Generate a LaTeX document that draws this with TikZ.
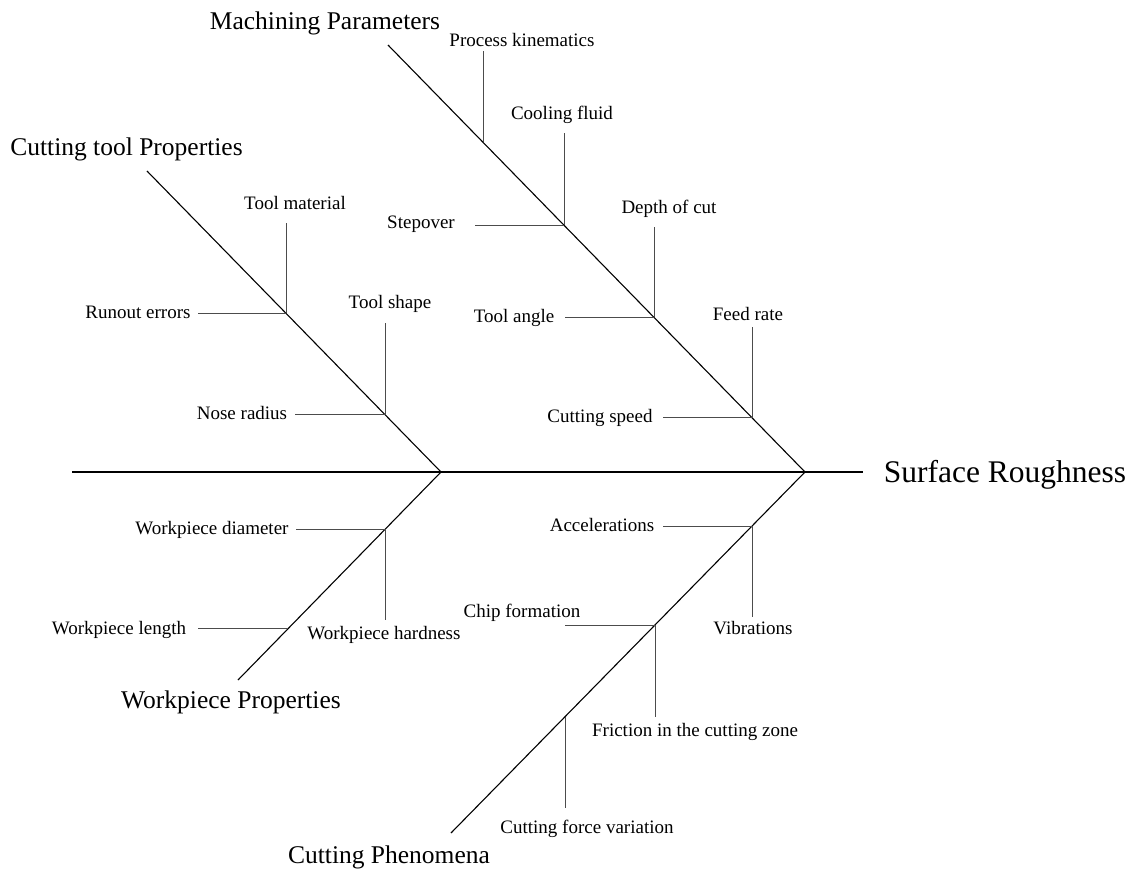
\documentclass[tikz,border=0pt]{standalone}
\usepackage{fontspec}
\setmainfont{Liberation Serif}

\begin{document}
\begin{tikzpicture}[x=1pt,y=-1pt,
  bone/.style={line width=1.1pt},
  twig/.style={line width=0.9pt,black!70},
  lbl/.style={anchor=base,inner sep=0pt,font=\fontsize{19}{22}\selectfont},
  cat/.style={anchor=base,inner sep=0pt,font=\fontsize{25.5}{30}\selectfont},
  head/.style={anchor=base,inner sep=0pt,font=\fontsize{31.5}{36}\selectfont}]
\useasboundingbox (0,0) rectangle (1136,869);
\coordinate (s0) at (72,472);
\coordinate (j1) at (441,472);
\coordinate (j2) at (805,472);
\coordinate (s1) at (863,472);
\coordinate (mp0) at (388,45);
\coordinate (ct0) at (147,171);
\coordinate (wp0) at (238,680);
\coordinate (cp0) at (451,833);
\coordinate (pk) at (483,142);  \coordinate (pk1) at (483,51);
\coordinate (cl) at (564,225);  \coordinate (cl1) at (564,133); \coordinate (so1) at (475,225);
\coordinate (dc) at (654,317);  \coordinate (dc1) at (654,227); \coordinate (ta1) at (565,317);
\coordinate (fr) at (752,417);  \coordinate (fr1) at (752,327); \coordinate (cs1) at (663,417);
\coordinate (tm) at (286,313);  \coordinate (tm1) at (286,223); \coordinate (ro1) at (198,313);
\coordinate (ts) at (385,414);  \coordinate (ts1) at (385,323); \coordinate (nr1) at (295,414);
\coordinate (wd) at (385,529);  \coordinate (wd1) at (296,529); \coordinate (wh1) at (385,620);
\coordinate (wl) at (288,628);  \coordinate (wl1) at (198,628);
\coordinate (ac) at (752,526);  \coordinate (ac1) at (663,526); \coordinate (vb1) at (752,617);
\coordinate (ch) at (655,625);  \coordinate (ch1) at (565,625); \coordinate (fz1) at (655,717);
\coordinate (cv) at (565,717);  \coordinate (cv1) at (565,808);

\node[head] (sr) at (1005,482) {Surface Roughness};
\node[cat] (mpl) at (325,29.5) {Machining Parameters};
\node[cat] (ctl) at (126.5,156) {Cutting tool Properties};
\node[cat] (wpl) at (231,708) {Workpiece Properties};
\node[cat] (cpl) at (389,863) {Cutting Phenomena};
\node[lbl] (pkl) at (522,46.5) {Process kinematics};
\node[lbl] (cll) at (562,119.5) {Cooling fluid};
\node[lbl] (sol) at (421,228.5) {Stepover};
\node[lbl] (dcl) at (669,213.5) {Depth of cut};
\node[lbl] (tal) at (514,322.5) {Tool angle};
\node[lbl] (frl) at (748,320.5) {Feed rate};
\node[lbl] (csl) at (600,422.5) {Cutting speed};
\node[lbl] (tml) at (295,209.5) {Tool material};
\node[lbl] (rol) at (138,318.5) {Runout errors};
\node[lbl] (tsl) at (390,308.5) {Tool shape};
\node[lbl] (nrl) at (242,419.5) {Nose radius};
\node[lbl] (wdl) at (212,534.5) {Workpiece diameter};
\node[lbl] (whl) at (384,639.5) {Workpiece hardness};
\node[lbl] (wll) at (119,634.5) {Workpiece length};
\node[lbl] (acl) at (602,531.5) {Accelerations};
\node[lbl] (vbl) at (753,634.5) {Vibrations};
\node[lbl] (chl) at (522,617.5) {Chip formation};
\node[lbl] (fzl) at (695,736.5) {Friction in the cutting zone};
\node[lbl] (cvl) at (587,833.5) {Cutting force variation};

\draw[bone] (s0) -- (s1);
\draw[bone] (mp0) -- (j2) -- (cp0);
\draw[bone] (ct0) -- (j1) -- (wp0);
\draw[twig]
  (pk) -- (pk1)
  (cl) -- (cl1)  (so1) -- (cl)
  (dc) -- (dc1)  (ta1) -- (dc)
  (fr) -- (fr1)  (cs1) -- (fr)
  (tm) -- (tm1)  (ro1) -- (tm)
  (ts) -- (ts1)  (nr1) -- (ts)
  (wd1) -- (wd) -- (wh1)
  (wl1) -- (wl)
  (ac1) -- (ac) -- (vb1)
  (ch1) -- (ch) -- (fz1)
  (cv) -- (cv1);
\end{tikzpicture}
\end{document}
